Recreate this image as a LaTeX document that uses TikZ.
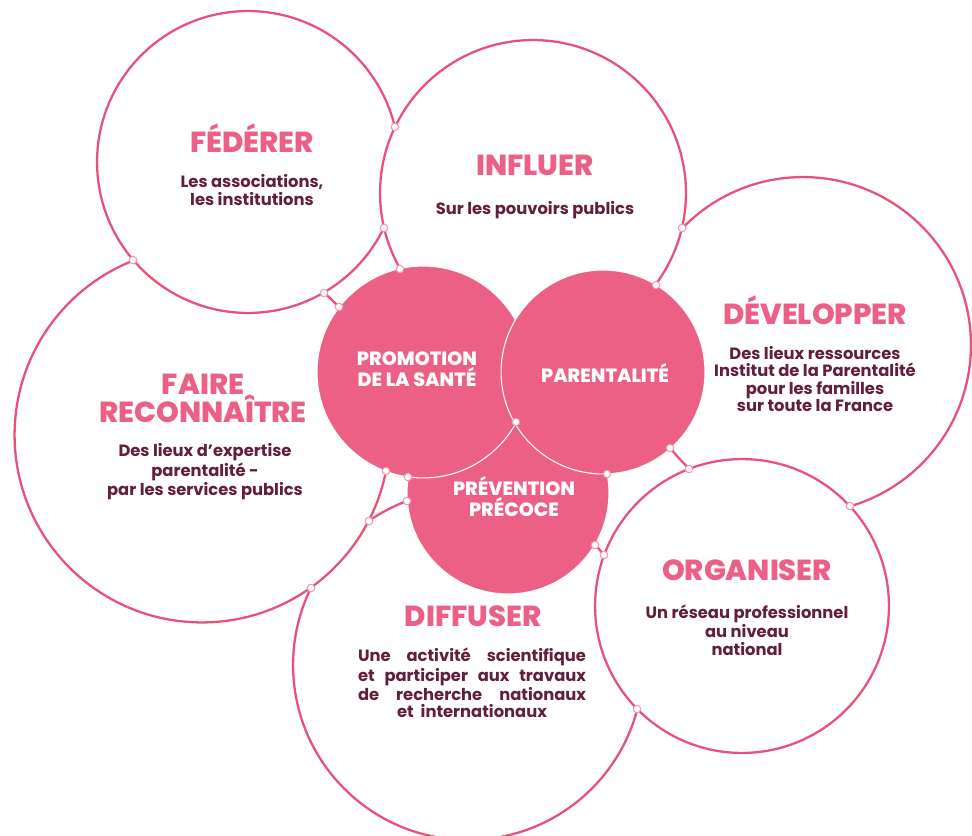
\documentclass[tikz,border=0pt]{standalone}
\usepackage{fontspec}
\setmainfont{Poppins}
\IfFontExistsTF{Poppins ExtraBold}{\newfontfamily\headfont{Poppins ExtraBold}\newcommand\headsize{16.5}}{\newcommand\headfont{\bfseries}\newcommand\headsize{17.6}}

\definecolor{rose}{RGB}{236,96,134}
\definecolor{roseline}{RGB}{232,82,122}
\definecolor{wine}{RGB}{98,30,60}

\tikzset{
  bigcircle/.style={circle, draw=roseline, line width=1.3pt, fill=white, inner sep=0pt, minimum size=#1*0.04cm},
  pinkcircle/.style={circle, draw=white, line width=0.6pt, fill=rose, inner sep=0pt, minimum size=#1*0.04cm},
  joint/.style={circle, draw=roseline!60, line width=0.6pt, fill=white, inner sep=0pt, minimum size=0.15cm},
  headline/.style={font=\headfont\fontsize{\headsize}{15.9}\selectfont, text=rose, align=center, inner sep=0pt},
  subline/.style={font=\bfseries\fontsize{9.3}{9.9}\selectfont, text=wine, align=center, inner sep=0pt},
  pinklabel/.style={font=\headfont\fontsize{10.9}{10.2}\selectfont, text=white, align=center, inner sep=0pt}
}

\begin{document}
\begin{tikzpicture}[x=0.02cm, y=-0.02cm]

\useasboundingbox (0,0) rectangle (972,835);

% Outer circles
\node[bigcircle=175] (diffuser) at (468,665) {};
\node[bigcircle=168] (developper) at (803,345) {};
\node[bigcircle=187.5] (faire) at (202,435) {};
\node[bigcircle=151] (federer) at (248,162) {};
\node[bigcircle=153] (influer) at (533,193) {};
\node[bigcircle=147] (organiser) at (742,606) {};

% Inner circles
\node[pinkcircle=101] (prevention) at (508,493) {};
\node[pinkcircle=106] (promotion) at (423,372) {};
\node[pinkcircle=102] (parentalite) at (603,372) {};

% Joints
\node[joint] (j1) at (133,260) {};
\node[joint] (j2) at (324,293) {};
\node[joint] (j3) at (339,307) {};
\node[joint] (j4) at (384,228) {};
\node[joint] (j5) at (395,127) {};
\node[joint] (j6) at (400,269) {};
\node[joint] (j7) at (656,285) {};
\node[joint] (j8) at (682,228) {};
\node[joint] (j9) at (670,448) {};
\node[joint] (j10) at (689,469) {};
\node[joint] (j11) at (850,506) {};
\node[joint] (j12) at (595,545) {};
\node[joint] (j13) at (604,555) {};
\node[joint] (j14) at (637,709) {};
\node[joint] (j15) at (407,501) {};
\node[joint] (j16) at (369,521) {};
\node[joint] (j17) at (311,588) {};
\node[joint] (j18) at (386,471) {};
\node[joint] (j19) at (408,477) {};
\node[joint] (j20) at (607,474) {};
\node[joint] (j21) at (516,422) {};

% Titles
\node[headline] (federer-title) at (252,138) {FÉDÉRER};
\node[headline] (influer-title) at (535,165) {INFLUER};
\node[headline] (developper-title) at (815,310) {DÉVELOPPER};
\node[headline] (faire-title) at (203,398) {FAIRE\\RECONNAÎTRE};
\node[headline] (diffuser-title) at (473,616) {DIFFUSER};
\node[headline] (organiser-title) at (747,570) {ORGANISER};

% Texts
\node[subline] (federer-text) at (252,190) {Les associations,\\les institutions};
\node[subline] (influer-text) at (535,210) {Sur les pouvoirs publics};
\node[subline] (developper-text) at (815,379) {Des lieux ressources\\Institut de la Parentalité\\pour les familles\\sur toute la France};
\node[subline] (faire-text) at (205,472) {Des lieux d’expertise\\parentalité -\\par les services publics};
\node[subline] (diffuser-text) at (472,683) {\makebox[4.56cm][s]{Une activité scientifique}\\\makebox[4.56cm][s]{et participer aux travaux}\\\makebox[4.56cm][s]{de recherche nationaux}\\et\ \ internationaux};
\node[subline] (organiser-text) at (747,630) {Un réseau professionnel\\au niveau\\national};

% Pink labels
\node[pinklabel] (promotion-text) at (417,369) {PROMOTION\\DE LA SANTÉ};
\node[pinklabel] (parentalite-text) at (605,373) {PARENTALITÉ};
\node[pinklabel] (prevention-text) at (514,497) {PRÉVENTION\\PRÉCOCE};

\end{tikzpicture}
\end{document}
